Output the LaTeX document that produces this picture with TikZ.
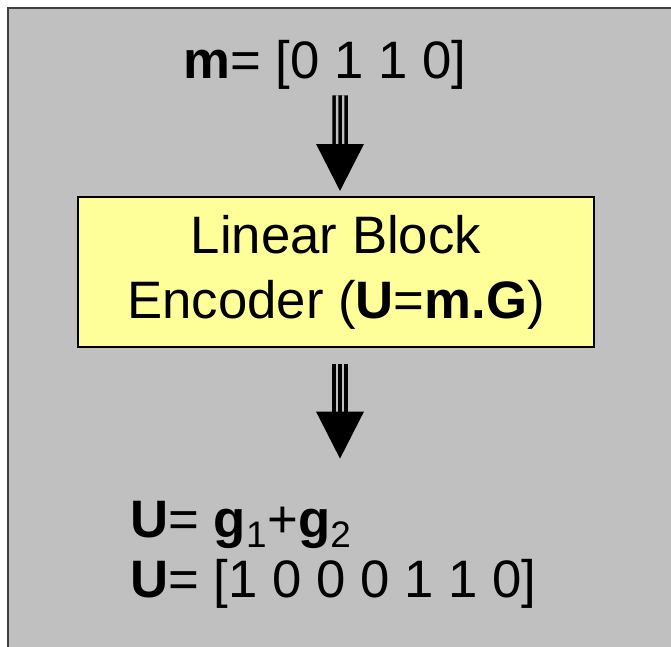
\documentclass[tikz,border=0pt]{standalone}
\usepackage{fontspec}
\setmainfont{Liberation Sans}
\usetikzlibrary{arrows.meta}
\definecolor{panelgray}{HTML}{C0C0C0}
\definecolor{encyellow}{HTML}{FFFF99}
\begin{document}
\begin{tikzpicture}[x=0.02cm, y=-0.02cm,
        txt/.style={inner sep=0pt, align=left, font=\fontsize{30}{34}\selectfont},
        encbox/.style={draw, line width=0.04cm, fill=encyellow, align=center, inner sep=0pt,
          minimum width=10.32cm, minimum height=3cm, font=\fontsize{30}{37}\selectfont},
        shaft/.style={line width=0.07cm, double=panelgray, double distance=0.17cm},
        core/.style={line width=0.07cm, -{Triangle[length=0.94cm, width=0.94cm]}}]
      \useasboundingbox (0,0) rectangle (671,646);
      \draw[fill=panelgray, draw=black!75, line width=0.05cm] (8,8) rectangle (690,670);
      \node[txt, anchor=base] (msg) at (325,78) {\textbf{m}= [0 1 1 0]};
      \node[encbox] (enc) at (336,272) {Linear Block\\Encoder (\textbf{U}=\textbf{m.G})};
      \node[txt, anchor=base west] (cw) at (130,597)
        {\textbf{U}= \textbf{g}\textsubscript{1}+\textbf{g}\textsubscript{2}\\\textbf{U}= [1 0 0 0 1 1 0]};
      % message into encoder
      \draw[shaft, shorten <=0.12cm, shorten >=1.0cm] ([xshift=0.3cm]msg.south) -- ([xshift=0.08cm]enc.north);
      \draw[core, shorten <=0.12cm, shorten >=0.1cm] ([xshift=0.3cm]msg.south) -- ([xshift=0.08cm]enc.north);
      % encoder to codeword
      \draw[shaft, shorten <=0.32cm, shorten >=1.74cm] ([xshift=0.08cm]enc.south) -- ([xshift=0.08cm]enc.south |- cw.north);
      \draw[core, shorten <=0.32cm, shorten >=0.84cm] ([xshift=0.08cm]enc.south) -- ([xshift=0.08cm]enc.south |- cw.north);
\end{tikzpicture}
\end{document}
